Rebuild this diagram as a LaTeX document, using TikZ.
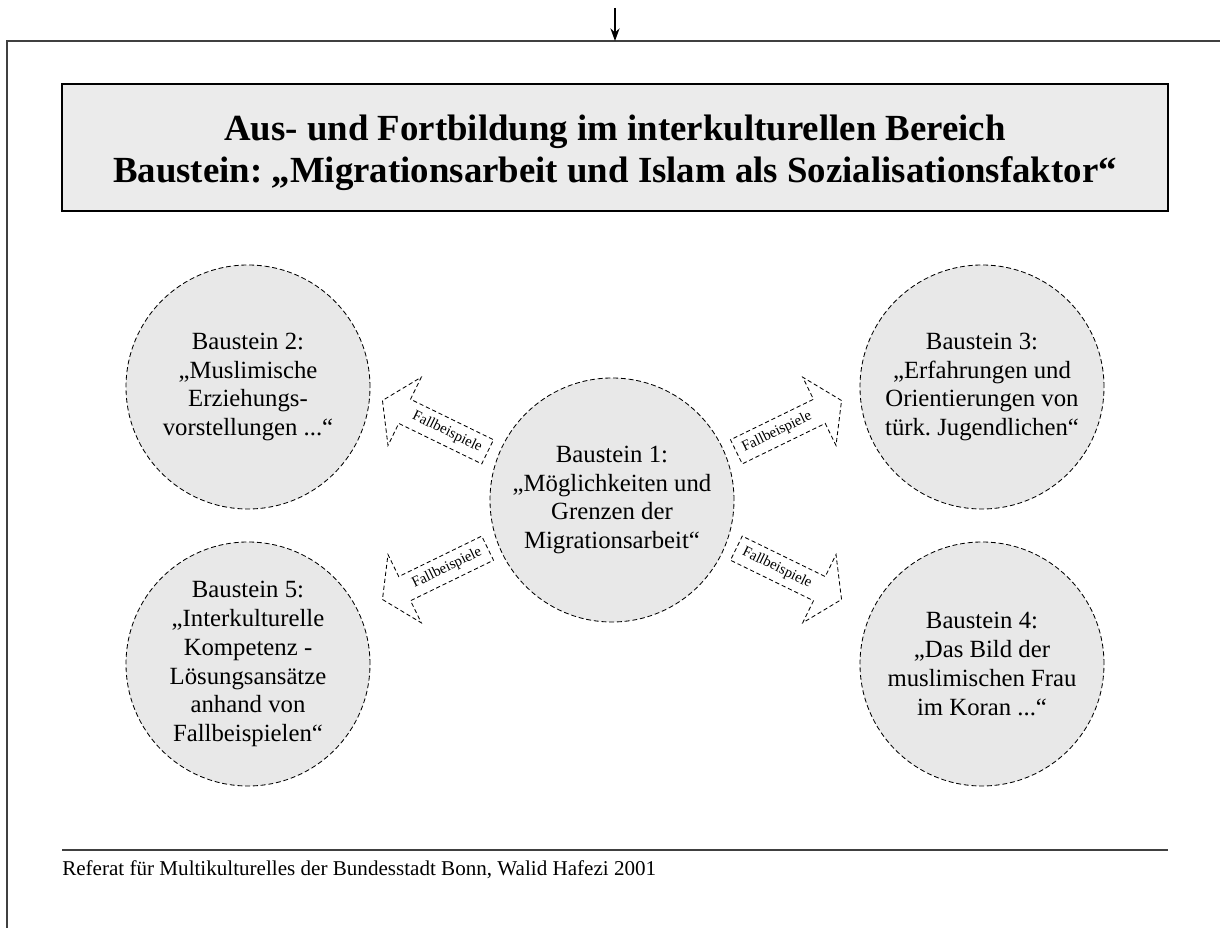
\documentclass[tikz,border=0pt]{standalone}
\usepackage{fontspec}
\setmainfont{Liberation Serif}
\usetikzlibrary{arrows.meta,positioning,shapes.arrows}
\frenchspacing

\begin{document}
\begin{tikzpicture}[>={Stealth[length=9pt,width=6.5pt]},
  baustein/.style={circle, draw, dash pattern=on 3.5pt off 2pt, line width=0.6pt, fill=black!9, minimum size=6.1cm, inner sep=0pt, align=center, font=\fontsize{17.6}{20.6}\selectfont},
  fallpfeil/.style={single arrow, draw, dash pattern=on 3pt off 2pt, line width=0.6pt, fill=white, minimum height=2.925cm, minimum width=1.9cm, single arrow head extend=0.6cm, single arrow tip angle=114, inner xsep=1pt, inner ysep=0.15cm, font=\fontsize{10.5}{12}\selectfont}]
  \useasboundingbox (0,0) rectangle (30.5,23.2);
  % frame with the incoming arrow
  \coordinate (oben) at (15.375,23.0);
  \coordinate (rahmen) at (15.375,22.175);
  \draw[line width=1.2pt, black!75] (30.5,22.175) -- (0.175,22.175) -- (0.175,0);
  \draw[->, line width=0.9pt] (oben) -- (rahmen);
  % title
  \node (titel) [draw, line width=1pt, fill=black!8, minimum width=27.65cm, minimum height=3.175cm] at (15.375,19.5125) {};
  \node (titeltext) [align=center, font=\fontsize{26.2}{29.9}\selectfont\bfseries] at (15.375,19.39)
    {Aus- und Fortbildung im interkulturellen Bereich\\Baustein: „Migrationsarbeit und Islam als Sozialisationsfaktor“};
  % the five parts
  \node (b1) [baustein] at (15.3,10.7) {Baustein 1:\\„Möglichkeiten und\\Grenzen der\\Migrationsarbeit“};
  \node (b2) [baustein] at (6.2,13.525) {Baustein 2:\\„Muslimische\\Erziehungs-\\vorstellungen ...“};
  \node (b3) [baustein] at (24.55,13.525) {Baustein 3:\\„Erfahrungen und\\Orientierungen von\\türk. Jugendlichen“};
  \node (b4) [baustein] at (24.55,6.6) {Baustein 4:\\„Das Bild der\\muslimischen Frau\\im Koran ...“};
  \node (b5) [baustein] at (6.2,6.6) {Baustein 5:\\„Interkulturelle\\Kompetenz -\\Lösungsansätze\\anhand von\\Fallbeispielen“};
  % block arrows, text kept in the shaft
  \node (fb3) [fallpfeil, rotate=26, anchor=tail] at (18.4,11.9) {\makebox[0pt]{\hspace*{-0.45cm}Fallbeispiele}};
  \node (fb4) [fallpfeil, rotate=-26, anchor=tail] at (18.4,9.5) {\makebox[0pt]{\hspace*{-0.45cm}Fallbeispiele}};
  \node (fb2) [fallpfeil, rotate=-26, shape border rotate=180, anchor=tail] at (12.2,11.9) {\makebox[0pt]{Fallbeispiele\hspace*{-0.45cm}}};
  \node (fb5) [fallpfeil, rotate=26, shape border rotate=180, anchor=tail] at (12.2,9.5) {\makebox[0pt]{Fallbeispiele\hspace*{-0.45cm}}};
  % footer
  \coordinate (linkslinie) at (1.55,1.95);
  \coordinate (rechtslinie) at (29.2,1.95);
  \draw[line width=1.2pt, black!75] (linkslinie) -- (rechtslinie);
  \node (quelle) [anchor=base west, inner sep=0pt, font=\fontsize{15}{18}\selectfont] at (1.55,1.3)
    {Referat für Multikulturelles der Bundesstadt Bonn, Walid Hafezi 2001};
\end{tikzpicture}
\end{document}
